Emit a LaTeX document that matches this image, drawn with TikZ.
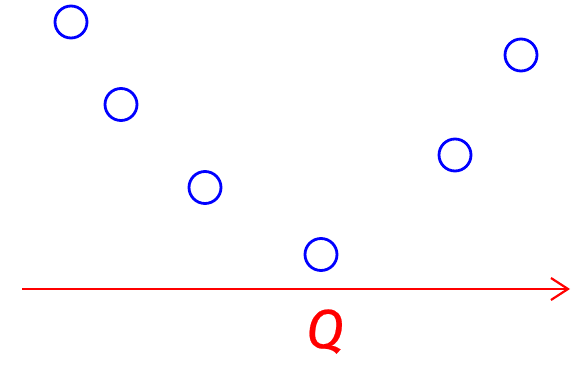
\documentclass[tikz,border=0pt]{standalone}
\usepackage{fontspec}
\setmainfont{Fira Sans}
\newfontfamily\qfont[FakeBold=0.4]{Fira Sans}
\usetikzlibrary{arrows.meta}
\begin{document}
\begin{tikzpicture}[x=1pt,y=-1pt,
  dot/.style={circle,draw=blue,line width=2.8pt,minimum size=32pt,inner sep=0pt},
  axis/.style={draw=red,line width=2.2pt,-{Straight Barb[length=17pt,width=22pt,line width=2.2pt]}}]
\useasboundingbox (0,0) rectangle (575,364);
\node[dot] (c1) at (71,22) {};
\node[dot] (c2) at (121,104.5) {};
\node[dot] (c3) at (205,187.5) {};
\node[dot] (c4) at (321,254.5) {};
\node[dot] (c5) at (455,155) {};
\node[dot] (c6) at (521,55) {};
\coordinate (a0) at (22,289);
\coordinate (a1) at (570,289);
\draw[axis] (a0) -- (a1);
\node[text=red,font=\qfont\fontsize{55}{55}\selectfont\itshape,inner sep=0pt,anchor=base] (q) at (325,348) {Q};
\end{tikzpicture}
\end{document}
